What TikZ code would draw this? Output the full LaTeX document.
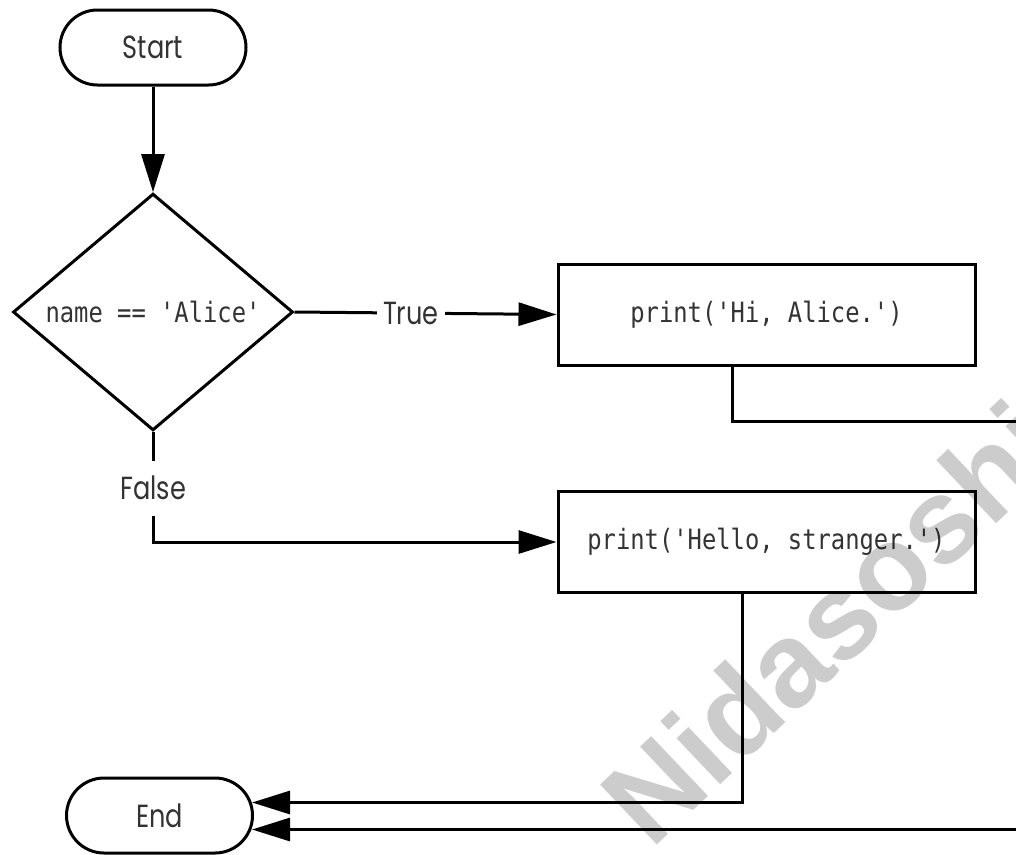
\documentclass[tikz,border=0pt]{standalone}
\usepackage{fontspec}
\usetikzlibrary{arrows.meta,shapes.geometric,shapes.misc,calc}
\newfontfamily\lblfont[FakeStretch=0.8]{Poppins}
\newfontfamily\codefont[FakeStretch=0.85]{DejaVu Sans Mono}
\newfontfamily\wmfont{Liberation Sans}
\begin{document}
\begin{tikzpicture}[x=1pt,y=-1pt,
  line width=3pt,
  lbltext/.style={font=\lblfont\fontsize{32}{36}\selectfont, text=black!80},
  codetext/.style={font=\codefont\fontsize{28}{32}\selectfont, text=black!80},
  terminal/.style={draw, rounded rectangle, minimum width=186pt, minimum height=75pt, inner sep=0pt, lbltext},
  decision/.style={draw, diamond, minimum width=280pt, minimum height=233pt, inner sep=0pt, codetext},
  process/.style={draw, rectangle, minimum width=417pt, minimum height=101pt, inner sep=0pt, codetext},
  flow/.style={-{Triangle[length=38pt,width=23pt]}, line join=miter},
  edgelabel/.style={fill=white, inner xsep=6pt, inner ysep=0pt, lbltext}
]
\useasboundingbox (0,0) rectangle (1016,854);
\clip (0,0) rectangle (1016,854);

% nodes
\node[terminal] (start) at (153,47.5) {Start};
\node[decision] (dec) at (153,312) {name == 'Alice'};
\node[process] (hi) at (766.5,314.5) {print('Hi, Alice.')};
\node[process] (hello) at (766.5,542) {print('Hello, stranger.')};
\node[terminal] (end) at (159.5,815.5) {End};

% connectors
\draw[flow] (start.south) -- (dec.north);
\draw[flow] (dec.east) -- node[edgelabel, pos=0.444] {True} (hi.west);
\draw[flow] (dec.south) -- node[edgelabel, pos=0.51, minimum height=55pt] {False}
  (dec.south |- hello.west) -- (hello.west);
\draw[flow] ([xshift=-34.5pt]hi.south) |- (1040,421) |- ($(end.east)+(-2,14)$);
\draw[flow] ([xshift=-24.5pt]hello.south) |- ($(end.east)+(-2,-13)$);

% watermark
\node[rotate=43.5, text=black, text opacity=0.2, inner sep=0pt,
  font=\wmfont\bfseries\fontsize{120}{120}\selectfont] (wm) at (830,622) {Nidasoshi};
\end{tikzpicture}
\end{document}
